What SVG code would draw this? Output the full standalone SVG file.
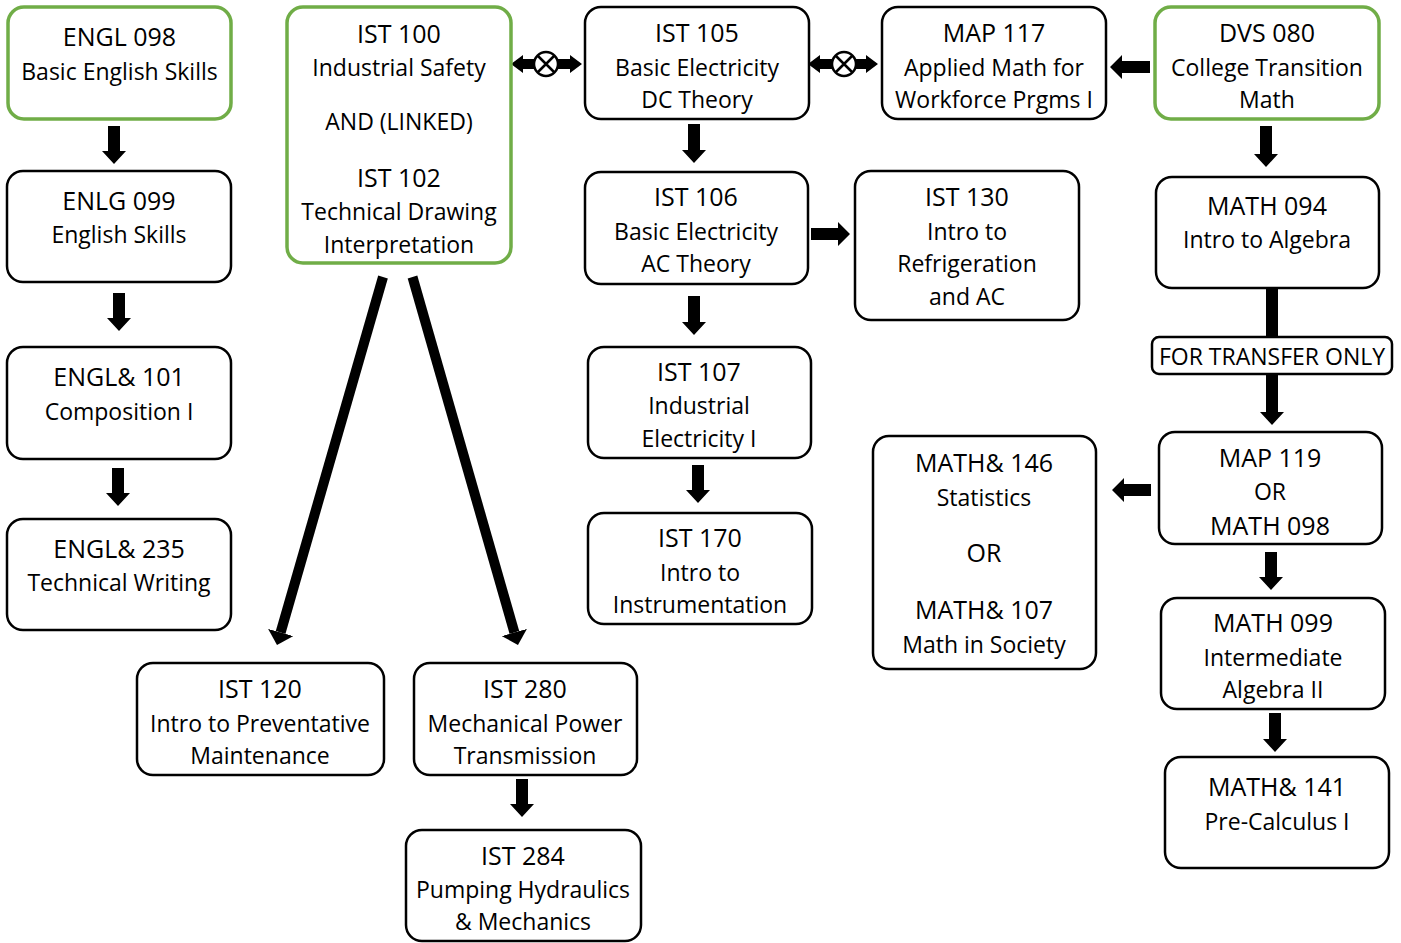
<svg xmlns="http://www.w3.org/2000/svg" width="1401" height="943" viewBox="0 0 1401 943">
<style>
.n{fill:#fff;stroke:#000;stroke-width:2.5}
.g{fill:#fff;stroke:#70ad47;stroke-width:3.5}
text{font-family:"Open Sans","Liberation Sans",sans-serif;fill:#000;text-anchor:middle}
.t{font-size:25px}
.s{font-size:23px}
.a{fill:#000;stroke:none}
.d{stroke:#000;stroke-width:10;fill:none}
</style>
<defs>
<marker id="ah" markerUnits="userSpaceOnUse" markerWidth="14" markerHeight="26" refX="0" refY="13" orient="auto"><path d="M0,0 L13,13 L0,26 z" fill="#000"/></marker>
</defs>
<g id="connectors">
<path class="a" d="M108,126 H120 V151 H126 L114,164 L102,151 H108 Z"/>
<path class="a" d="M113,293 H125 V318 H131 L119,331 L107,318 H113 Z"/>
<path class="a" d="M112,468 H124 V493 H130 L118,506 L106,493 H112 Z"/>
<path class="a" d="M688,124 H700 V150 H706 L694,163 L682,150 H688 Z"/>
<path class="a" d="M688,296 H700 V322 H706 L694,335 L682,322 H688 Z"/>
<path class="a" d="M692,465 H704 V490 H710 L698,503 L686,490 H692 Z"/>
<path class="a" d="M516,779 H528 V804 H534 L522,817 L510,804 H516 Z"/>
<path class="a" d="M1260,126 H1272 V154 H1278 L1266,167 L1254,154 H1260 Z"/>
<rect class="a" x="1266" y="289" width="12" height="48"/>
<path class="a" d="M1266,374 H1278 V412 H1284 L1272,425 L1260,412 H1266 Z"/>
<path class="a" d="M1265,552 H1277 V577 H1283 L1271,590 L1259,577 H1265 Z"/>
<path class="a" d="M1269,713 H1281 V739 H1287 L1275,752 L1263,739 H1269 Z"/>
<path class="a" d="M811,228 H838 V222 L850,234 L838,246 V240 H811 Z"/>
<path class="a" d="M1150,61 H1122 V55 L1110,67 L1122,79 V73 H1150 Z"/>
<path class="a" d="M1151,484 H1124 V478 L1112,490 L1124,502 V496 H1151 Z"/>
<path class="a" d="M511,64 L523,55 V59 H570 V55 L582,64 L570,73 V69 H523 V73 Z"/>
<circle cx="546" cy="64" r="12" fill="#fff" stroke="#000" stroke-width="2.5"/>
<path d="M537.5,55.5 L554.5,72.5 M554.5,55.5 L537.5,72.5" stroke="#000" stroke-width="2.5"/>
<path class="a" d="M808,64 L820,55 V59 H866 V55 L878,64 L866,73 V69 H820 V73 Z"/>
<circle cx="844" cy="64" r="12" fill="#fff" stroke="#000" stroke-width="2.5"/>
<path d="M835.5,55.5 L852.5,72.5 M852.5,55.5 L835.5,72.5" stroke="#000" stroke-width="2.5"/>
<line class="d" x1="383" y1="277" x2="280.6" y2="632.5" marker-end="url(#ah)"/>
<line class="d" x1="412.5" y1="277" x2="514.4" y2="632.5" marker-end="url(#ah)"/>
</g>
<g id="engl098"><rect class="g" x="8" y="7" width="223" height="112" rx="16"/><text class="t" x="119.5" y="46">ENGL 098</text><text class="s" x="119.5" y="80">Basic English Skills</text></g>
<g id="enlg099"><rect class="n" x="7" y="171" width="224" height="111" rx="16"/><text class="t" x="119" y="210">ENLG 099</text><text class="s" x="119" y="243">English Skills</text></g>
<g id="engl101"><rect class="n" x="7" y="347" width="224" height="112" rx="16"/><text class="t" x="119" y="386">ENGL&amp; 101</text><text class="s" x="119" y="420">Composition I</text></g>
<g id="engl235"><rect class="n" x="7" y="519" width="224" height="111" rx="16"/><text class="t" x="119" y="558">ENGL&amp; 235</text><text class="s" x="119" y="591">Technical Writing</text></g>
<g id="ist100"><rect class="g" x="287" y="7" width="224" height="256" rx="16"/><text class="t" x="399" y="43">IST 100</text><text class="s" x="399" y="76">Industrial Safety</text><text class="s" x="399" y="130">AND (LINKED)</text><text class="t" x="399" y="187">IST 102</text><text class="s" x="399" y="220">Technical Drawing</text><text class="s" x="399" y="253">Interpretation</text></g>
<g id="ist105"><rect class="n" x="585" y="7" width="224" height="112" rx="16"/><text class="t" x="697" y="42">IST 105</text><text class="s" x="697" y="76">Basic Electricity</text><text class="s" x="697" y="108">DC Theory</text></g>
<g id="map117"><rect class="n" x="882" y="7" width="224" height="112" rx="16"/><text class="t" x="994" y="42">MAP 117</text><text class="s" x="994" y="76">Applied Math for</text><text class="s" x="994" y="108">Workforce Prgms I</text></g>
<g id="dvs080"><rect class="g" x="1155" y="7" width="224" height="112" rx="16"/><text class="t" x="1267" y="42">DVS 080</text><text class="s" x="1267" y="76">College Transition</text><text class="s" x="1267" y="108">Math</text></g>
<g id="ist106"><rect class="n" x="585" y="172" width="223" height="112" rx="16"/><text class="t" x="696" y="206">IST 106</text><text class="s" x="696" y="240">Basic Electricity</text><text class="s" x="696" y="272">AC Theory</text></g>
<g id="ist130"><rect class="n" x="855" y="171" width="224" height="149" rx="16"/><text class="t" x="967" y="206">IST 130</text><text class="s" x="967" y="240">Intro to</text><text class="s" x="967" y="272">Refrigeration</text><text class="s" x="967" y="305">and AC</text></g>
<g id="math094"><rect class="n" x="1156" y="177" width="223" height="111" rx="16"/><text class="t" x="1267" y="215">MATH 094</text><text class="s" x="1267" y="248">Intro to Algebra</text></g>
<g id="transfer"><rect class="n" x="1152" y="337" width="240" height="37" rx="7"/><text class="s" x="1272" y="365">FOR TRANSFER ONLY</text></g>
<g id="ist107"><rect class="n" x="588" y="347" width="223" height="111" rx="16"/><text class="t" x="699" y="381">IST 107</text><text class="s" x="699" y="414">Industrial</text><text class="s" x="699" y="447">Electricity I</text></g>
<g id="ist170"><rect class="n" x="588" y="513" width="224" height="111" rx="16"/><text class="t" x="700" y="547">IST 170</text><text class="s" x="700" y="581">Intro to</text><text class="s" x="700" y="613">Instrumentation</text></g>
<g id="math146"><rect class="n" x="873" y="436" width="223" height="233" rx="16"/><text class="t" x="984" y="472">MATH&amp; 146</text><text class="s" x="984" y="506">Statistics</text><text class="t" x="984" y="562">OR</text><text class="t" x="984" y="619">MATH&amp; 107</text><text class="s" x="984" y="653">Math in Society</text></g>
<g id="map119"><rect class="n" x="1159" y="432" width="223" height="112" rx="16"/><text class="t" x="1270" y="467">MAP 119</text><text class="s" x="1270" y="500">OR</text><text class="t" x="1270" y="535">MATH 098</text></g>
<g id="math099"><rect class="n" x="1161" y="598" width="224" height="111" rx="16"/><text class="t" x="1273" y="632">MATH 099</text><text class="s" x="1273" y="666">Intermediate</text><text class="s" x="1273" y="698">Algebra II</text></g>
<g id="math141"><rect class="n" x="1165" y="757" width="224" height="111" rx="16"/><text class="t" x="1277" y="796">MATH&amp; 141</text><text class="s" x="1277" y="830">Pre-Calculus I</text></g>
<g id="ist120"><rect class="n" x="137" y="663" width="247" height="112" rx="16"/><text class="t" x="260" y="698">IST 120</text><text class="s" x="260" y="732">Intro to Preventative</text><text class="s" x="260" y="764">Maintenance</text></g>
<g id="ist280"><rect class="n" x="414" y="663" width="223" height="112" rx="16"/><text class="t" x="525" y="698">IST 280</text><text class="s" x="525" y="732">Mechanical Power</text><text class="s" x="525" y="764">Transmission</text></g>
<g id="ist284"><rect class="n" x="406" y="830" width="235" height="111" rx="16"/><text class="t" x="523" y="865">IST 284</text><text class="s" x="523" y="898">Pumping Hydraulics</text><text class="s" x="523" y="930">&amp; Mechanics</text></g>
</svg>
